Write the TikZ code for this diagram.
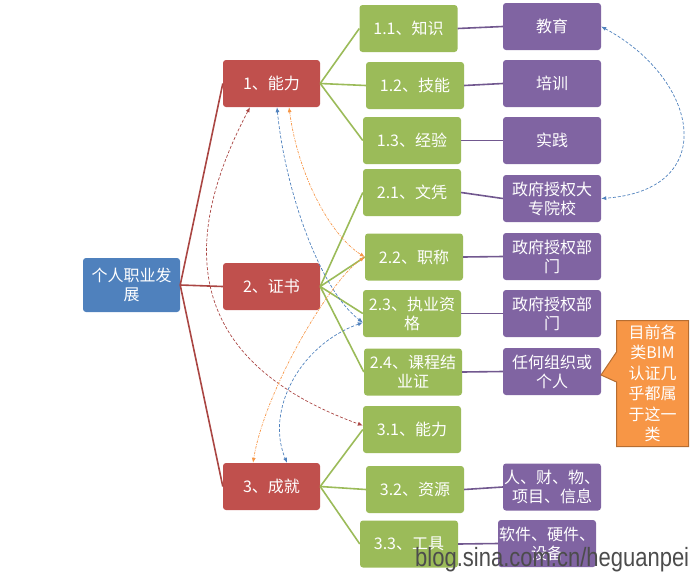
\documentclass[tikz,border=0pt]{standalone}
\usepackage{fontspec}
\newfontfamily\cjk{Noto Sans CJK SC}
\newfontfamily\wmfont{Liberation Sans}
\usetikzlibrary{arrows.meta}
\definecolor{rootblue}{HTML}{4F81BD}
\definecolor{boxred}{HTML}{C0504D}
\definecolor{boxgreen}{HTML}{9BBB59}
\definecolor{boxpurple}{HTML}{8064A2}
\definecolor{boxorange}{HTML}{F79646}
\definecolor{orangeedge}{HTML}{B66D31}
\definecolor{linered}{HTML}{AA4643}
\definecolor{linepurple}{HTML}{71588F}
\begin{document}
\begin{tikzpicture}[x=1pt,y=-1pt,
  box/.style={rounded corners=3pt,inner sep=1pt,align=center,text=white,
    font=\cjk\fontsize{16}{19}\selectfont},
  rootbox/.style={box,fill=rootblue,minimum width=97pt,minimum height=54pt},
  redbox/.style={box,fill=boxred,minimum width=97pt,minimum height=47pt},
  greenbox/.style={box,fill=boxgreen,minimum width=98pt,minimum height=47pt},
  purplebox/.style={box,fill=boxpurple,minimum width=98pt,minimum height=47pt},
  notebox/.style={inner sep=1pt,align=center,text=white,
    font=\cjk\fontsize{16}{20.5}\selectfont},
  redline/.style={draw=linered,line width=1.6pt},
  greenline/.style={draw=boxgreen,line width=1.6pt},
  purpleline/.style={draw=linepurple,line width=1.6pt},
  link/.style={line width=0.7pt,dash pattern=on 3pt off 1.8pt,
    {Latex[length=5pt,width=4pt]}-{Latex[length=5pt,width=4pt]}},
  dashdot/.style={dash pattern=on 2.5pt off 1.2pt on 0.8pt off 1.2pt},
]
\useasboundingbox (0,0) rectangle (690,571);
% nodes
\node[rootbox] (root) at (131.5,285) {个人职业发\\展};
\node[redbox] (r1) at (271.5,83.5) {1、能力};
\node[redbox] (r2) at (271.5,286.5) {2、证书};
\node[redbox] (r3) at (271.5,486.5) {3、成就};
%
\node[greenbox] (g11) at (408.5,28.5) {1.1、知识};
\node[greenbox] (g12) at (415,85.5) {1.2、技能};
\node[greenbox] (g13) at (412,140.5) {1.3、经验};
\node[greenbox] (g21) at (412,192.5) {2.1、文凭};
\node[greenbox] (g22) at (414,257) {2.2、职称};
\node[greenbox] (g23) at (412,313.5) {2.3、执业资\\格};
\node[greenbox] (g24) at (413,372) {2.4、课程结\\业证};
\node[greenbox] (g31) at (412,429.5) {3.1、能力};
\node[greenbox] (g32) at (415,489.5) {3.2、资源};
\node[greenbox] (g33) at (409,544) {3.3、工具};
%
\node[purplebox] (p11) at (552,26.5) {教育};
\node[purplebox] (p12) at (552,83.5) {培训};
\node[purplebox] (p13) at (552,140.5) {实践};
\node[purplebox] (p21) at (552,198.5) {政府授权大\\专院校};
\node[purplebox] (p22) at (552,256.5) {政府授权部\\门};
\node[purplebox] (p23) at (552,313.5) {政府授权部\\门};
\node[purplebox] (p24) at (552,371.5) {任何组织或\\个人};
\node[purplebox] (p32) at (552,487) {人、财、物、\\项目、信息};
\node[purplebox] (p33) at (547,543.5) {软件、硬件、\\设备};
% callout
\draw[fill=boxorange,draw=orangeedge,line width=1pt] (616.5,320.5)--(688.5,320.5)--(688.5,446.5)
  --(616.5,446.5)--(616.5,382)--(601,375)--(616.5,352)--cycle;
\node[notebox] (note) at (652.5,383.5) {目前各\\类BIM\\认证几\\乎都属\\于这一\\类};
% tree lines
\foreach \r in {r1,r2,r3}
  \draw[redline] (root.east)--(\r.west);
\foreach \g in {g11,g12,g13}
  \draw[greenline] (r1.east)--(\g.west);
\foreach \g in {g21,g22,g23,g24}
  \draw[greenline] (r2.east)--(\g.west);
\foreach \g in {g31,g32,g33}
  \draw[greenline] (r3.east)--(\g.west);
\foreach \g/\p in {g11/p11,g12/p12,g13/p13,g21/p21,g22/p22,g23/p23,g24/p24,g32/p32,g33/p33}
  \draw[purpleline] (\g.east)--(\p.west);
% dashed links
\draw[link,linered] ([xshift=-21.5pt]r1.south) .. controls (180,240) and (182,360) .. ([yshift=4pt]g31.west);
\draw[link,rootblue] ([xshift=5.5pt]r1.south) .. controls (285,190) and (320,290) .. ([yshift=-9pt]g23.west);
\draw[link,rootblue] ([yshift=-9pt]g23.west) .. controls (300,345) and (265,410) .. ([xshift=15.5pt]r3.north);
\draw[link,boxorange,dashdot] ([xshift=17.5pt]r1.south) .. controls (298,175) and (330,235) .. (g22.west);
\draw[link,boxorange,dashdot] (g22.west) .. controls (330,280) and (265,390) .. ([xshift=-18.5pt]r3.north);
\draw[link,rootblue] (p11.east) .. controls (700,80) and (720,190) .. (p21.east);
% watermark
\node[anchor=base west,inner sep=0pt,text=black!70,font=\wmfont\fontsize{22}{22}\selectfont] (wm) at (415,566)
  {\scalebox{1}[1.2]{blog.sina.com.cn/heguanpei}};
\end{tikzpicture}
\end{document}
